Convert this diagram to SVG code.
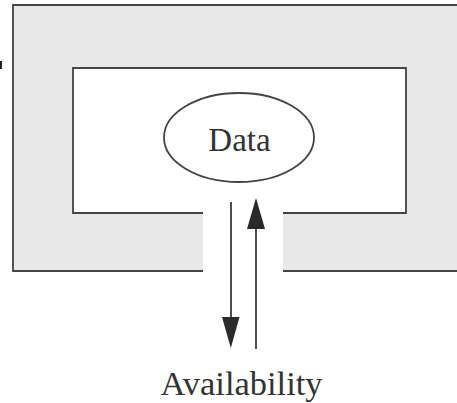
<svg xmlns="http://www.w3.org/2000/svg" width="457" height="403" viewBox="0 0 457 403">
<style>
.edge{fill:none;stroke:#444;stroke-width:1.8}
.line{fill:none;stroke:#3a3a3a;stroke-width:1.8}
.head{fill:#2a2a2a;stroke:none}
.lbl{font-family:"Liberation Serif","Times New Roman",serif;fill:#333;text-anchor:middle}
</style>
<rect width="457" height="403" fill="#fff"/>
<g id="boundary">
<path d="M13,5 H460 V271 H283 V213 H406 V68 H73 V213 H203 V271 H13 Z" fill="#e8e8e8"/>
<path class="edge" d="M203,271 H13 V5 H460 M460,271 H283 M203,213 H73 V68 H406 V213 H283"/>
</g>
<rect x="0" y="61" width="2" height="8" fill="#222"/>
<g id="data">
<ellipse class="edge" cx="239" cy="137.5" rx="75" ry="44.5"/>
<text class="lbl" x="239.5" y="151" font-size="33">Data</text>
</g>
<g id="availability">
<text class="lbl" x="241.5" y="395" font-size="34.5">Availability</text>
</g>
<g id="connectors">
<line class="line" x1="231" y1="202" x2="231" y2="320"/>
<polygon class="head" points="222,317 239.5,317 230.8,348"/>
<line class="line" x1="256" y1="349" x2="256" y2="227"/>
<polygon class="head" points="247,229 265,229 256,198"/>
</g>
</svg>
